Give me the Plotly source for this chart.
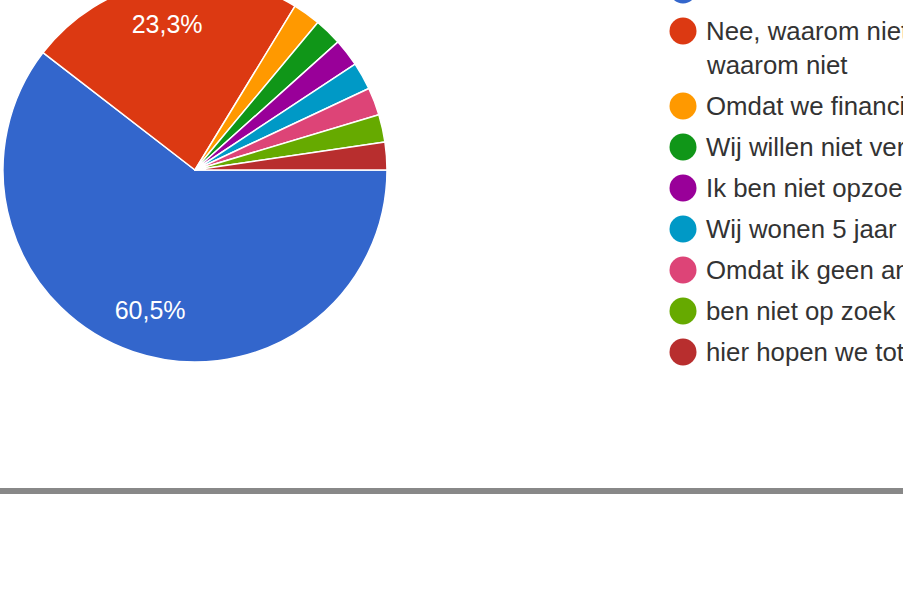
import plotly.graph_objects as go

# ---- data ----
categories = [
    "Ja",
    "Nee, waarom niet? Zo ja, graag toelichten<br>waarom niet",
    "Omdat we financieel niet kunnen verhuizen",
    "Wij willen niet verhuizen",
    "Ik ben niet opzoek naar een andere woning",
    "Wij wonen 5 jaar hier",
    "Omdat ik geen andere woning kan vinden",
    "ben niet op zoek naar een nieuwe woning",
    "hier hopen we tot ons pensioen te blijven",
]
counts = [26, 10, 1, 1, 1, 1, 1, 1, 1]
colors = ["#3366cc", "#dc3912", "#ff9900", "#109618", "#990099",
          "#0099c6", "#dd4477", "#66aa00", "#b82e2e"]

# ---- layout constants ----
W, SHIFT = 903, 40
H = 598 + SHIFT
FONT = "Liberation Sans, Arial, sans-serif"
NB = "\u00a0"
PCT = "%{percent:.1%}"

# slice labels (only the big slices show a label, as in the reference)
texttemplates = [
    (NB + "<br>") * 3 + PCT + NB * 4,
    PCT + NB * 2 + ("<br>" + NB) * 2,
] + [""] * (len(categories) - 2)

fig = go.Figure()

fig.add_trace(go.Pie(
    labels=categories,
    values=counts,
    sort=False,
    direction="clockwise",
    rotation=90,
    marker=dict(colors=colors, line=dict(color="#ffffff", width=1.5)),
    texttemplate=texttemplates,
    textposition="inside",
    insidetextorientation="horizontal",
    insidetextfont=dict(color="#ffffff", size=25, family=FONT),
    domain=dict(x=[3 / W, 387 / W], y=[1 - 402 / H, 1 - 18 / H]),
    showlegend=False,
    hoverinfo="skip",
))

# ---- custom legend (circles + labels) ----
ROW, LINE, TOP = 41, 34, 30
row_y = []
y = TOP
for lab in categories:
    row_y.append(y)
    y += ROW + LINE * (lab.count("<br>"))

fig.add_trace(go.Scatter(
    x=[0] * len(categories),
    y=row_y,
    mode="markers",
    marker=dict(size=27, color=colors, line=dict(width=0)),
    cliponaxis=False,
    showlegend=False,
    hoverinfo="skip",
    xaxis="x", yaxis="y",
))

annotations = []
for lab, yy in zip(categories, row_y):
    for k, line in enumerate(lab.split("<br>")):
        annotations.append(dict(
            x=0, y=yy + k * LINE, xref="x", yref="y",
            text=line, showarrow=False, xanchor="left", yanchor="middle",
            xshift=21, font=dict(size=25.8, color="#333333", family=FONT),
        ))

fig.update_layout(
    width=W, height=H,
    margin=dict(l=0, r=0, t=0, b=0),
    paper_bgcolor="#ffffff", plot_bgcolor="#ffffff",
    separators=",.",
    font=dict(family=FONT),
    xaxis=dict(domain=[663 / W, 703 / W], range=[-1, 1], visible=False, fixedrange=True),
    yaxis=dict(domain=[0, 1], range=[H, 0], visible=False, fixedrange=True),
    annotations=annotations,
    shapes=[dict(type="rect", xref="paper", yref="paper", x0=0, x1=1,
                 y0=1 - (494 + SHIFT) / H, y1=1 - (488 + SHIFT) / H,
                 fillcolor="#888888", line=dict(width=0), layer="above")],
)

post = (
    "document.body.style.margin='0';"
    "document.body.style.overflow='hidden';"
    "var gd=document.getElementById('{plot_id}');"
    "gd.style.marginTop='-%dpx';" % SHIFT
)

fig.write_html("out.html", config={"displayModeBar": False}, post_script=post)
